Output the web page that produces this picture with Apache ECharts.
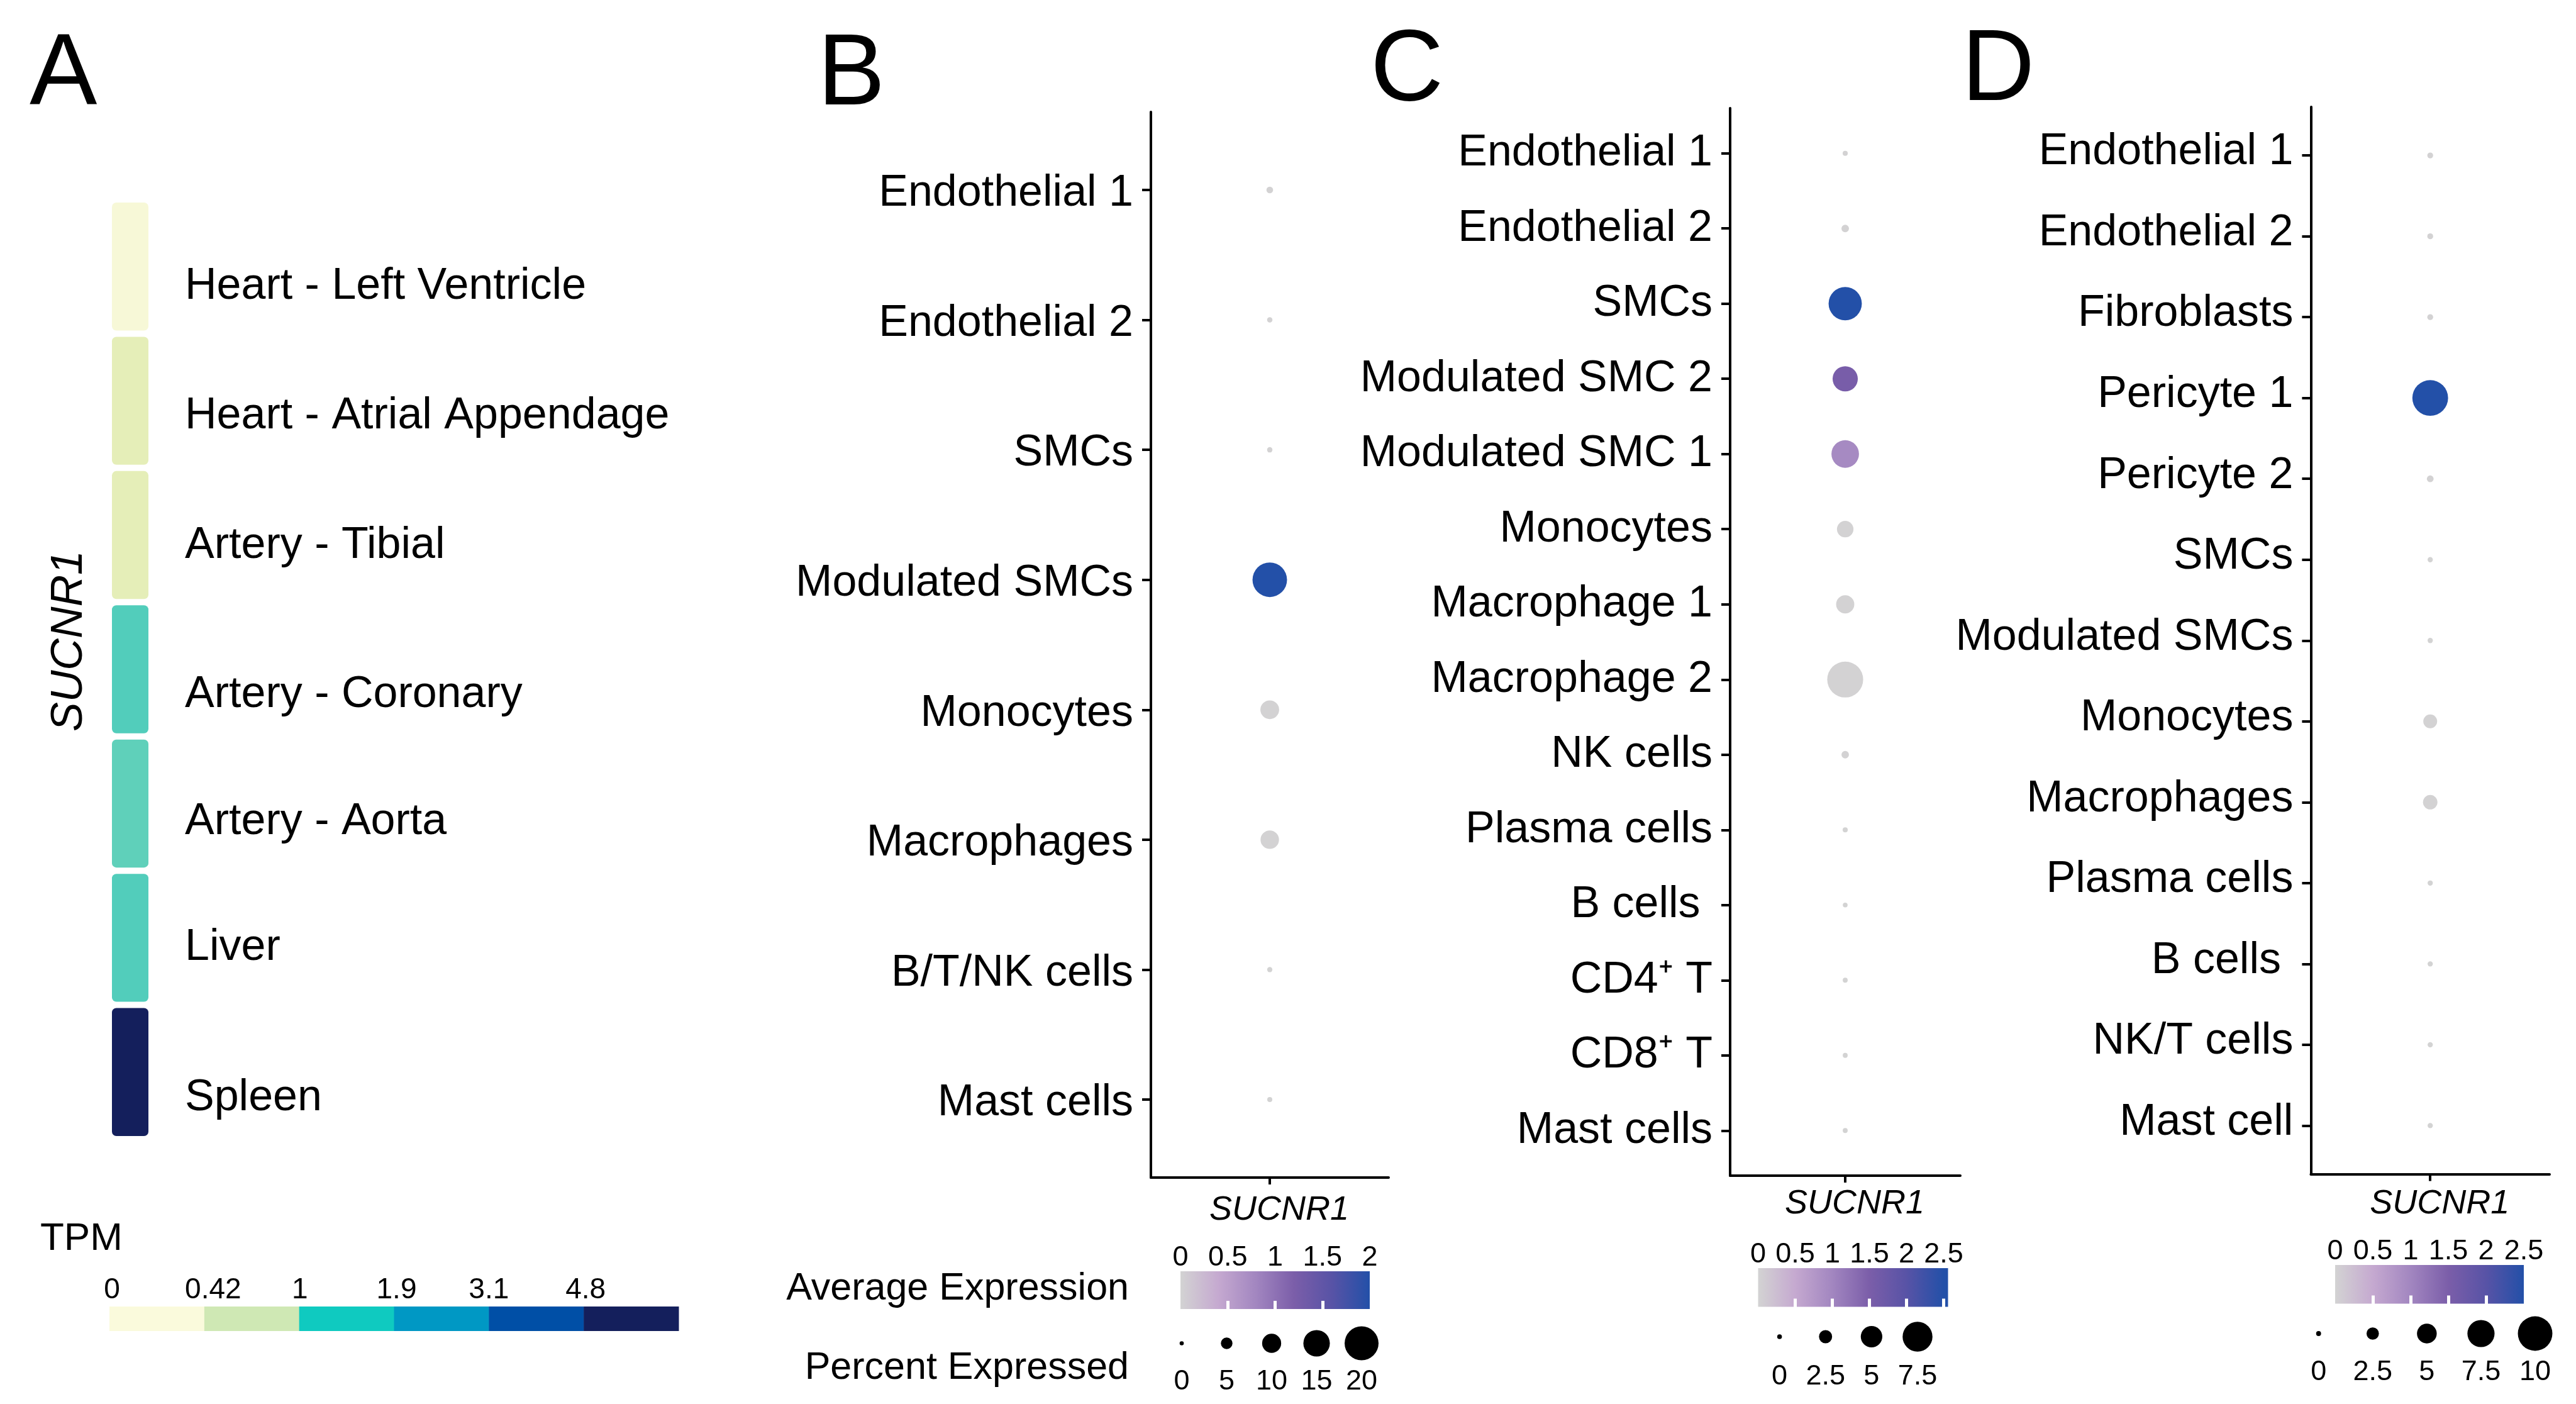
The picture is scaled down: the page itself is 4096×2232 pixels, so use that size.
<!DOCTYPE html>
<html><head><meta charset="utf-8">
<script src="https://cdn.jsdelivr.net/npm/echarts@6/dist/echarts.min.js"></script>
<style>html,body{margin:0;padding:0;background:#fff;}#chart{width:4096px;height:2232px;}</style>
</head><body><div id="chart"></div>
<script>
// ---------------- data ----------------
const genes = ['SUCNR1'];

// Panel A: GTEx tissues (TPM)
const tissues = ['Heart - Left Ventricle','Heart - Atrial Appendage','Artery - Tibial','Artery - Coronary','Artery - Aorta','Liver','Spleen'];
const tissueTPM = [0.03, 0.21, 0.21, 0.71, 0.68, 0.71, 6.0];
const tpmBreaks = [0, 0.42, 1, 1.9, 3.1, 4.8];
const tpmBreakLabels = ['0','0.42','1','1.9','3.1','4.8'];

// Panel B
const cellsB = ['Endothelial 1','Endothelial 2','SMCs','Modulated SMCs','Monocytes','Macrophages','B/T/NK cells','Mast cells'];
const pctB = [1.7, 0.8, 0.8, 20.4, 9.8, 9.6, 0.7, 0.6];
const avgB = [0.01, 0.01, 0.01, 2.0, 0.01, 0.01, 0.0, 0.0];
const avgTicksB = [0, 0.5, 1, 1.5, 2];
const pctTicksB = [0, 5, 10, 15, 20];

// Panel C
const cellsC = ['Endothelial 1','Endothelial 2','SMCs','Modulated SMC 2','Modulated SMC 1','Monocytes','Macrophage 1','Macrophage 2','NK cells','Plasma cells','B cells ','CD4\u207A T','CD8\u207A T','Mast cells'];
const pctC = [0.1, 0.8, 8.5, 6.1, 6.8, 3.5, 4.0, 9.3, 0.8, 0.1, 0.0, 0.05, 0.05, 0.05];
const avgC = [0.01, 0.01, 2.56, 1.55, 0.95, 0.01, 0.01, 0.01, 0.01, 0.0, 0.0, 0.0, 0.0, 0.0];
const avgTicksC = [0, 0.5, 1, 1.5, 2, 2.5];
const pctTicksC = [0, 2.5, 5, 7.5];

// Panel D
const cellsD = ['Endothelial 1','Endothelial 2','Fibroblasts','Pericyte 1','Pericyte 2','SMCs','Modulated SMCs','Monocytes','Macrophages','Plasma cells','B cells ','NK/T cells','Mast cell'];
const pctD = [0.3, 0.3, 0.3, 10.4, 0.6, 0.1, 0.1, 3.0, 3.2, 0.1, 0.1, 0.1, 0.1];
const avgD = [0.01, 0.01, 0.01, 2.5, 0.01, 0.0, 0.0, 0.01, 0.01, 0.0, 0.0, 0.0, 0.0];
const avgTicksD = [0, 0.5, 1, 1.5, 2, 2.5];
const pctTicksD = [0, 2.5, 5, 7.5, 10];

// ---------------- styles ----------------
const FONT = 'Liberation Sans, Arial, Helvetica, sans-serif';
const tpmColors = ['#FAFADC','#E5EEB8','#CFE8B4','#52CDBB','#0FCAC0','#08B1C2','#0098C4','#0074B5','#004FA6','#0A3781','#141F5C'];
const expColors = ['#D3D3D3','#C5A9D0','#A286C0','#7B5EA9','#5853A6','#2350A8'];

function tpmToPos(v) { // position on the (piecewise) TPM legend scale
  for (let i = 0; i < tpmBreaks.length - 1; i++) {
    if (v <= tpmBreaks[i + 1]) return i + (v - tpmBreaks[i]) / (tpmBreaks[i + 1] - tpmBreaks[i]);
  }
  return tpmBreaks.length - 1;
}

const grids = [], xAxes = [], yAxes = [], series = [], visualMaps = [];
function addGrid(g) { grids.push(Object.assign({containLabel: false, outerBoundsMode: 'none'}, g)); return grids.length - 1; }
const black = '#000';

// ---- Panel A: tiles ----
const gA = addGrid({left: 178, top: 317, width: 58, height: 1494});
xAxes.push({gridIndex: gA, type: 'category', data: genes, show: false});
const tileNudge = [32, 25, 17, 41, 29, 16, 41];
const richA = {};
tileNudge.forEach((n, i) => { richA['t' + i] = {fontSize: 70, fontFamily: FONT, color: black, padding: [2 * n, 0, 0, 0]}; });
yAxes.push({gridIndex: gA, type: 'category', data: tissues, inverse: true, position: 'right',
  axisLine: {show: false}, axisTick: {show: false}, splitLine: {show: false},
  axisLabel: {show: true, interval: 0, margin: 58, align: 'left', formatter: (v, i) => '{t' + i + '|' + v + '}', rich: richA}});
series.push({type: 'custom', xAxisIndex: xAxes.length - 1, yAxisIndex: yAxes.length - 1, clip: false,
  data: tissueTPM.map((v, i) => [0, i, tpmToPos(v)]),
  encode: {x: 0, y: 1},
  renderItem: (params, api) => {
    const c = api.coord([api.value(0), api.value(1)]);
    const s = api.size([1, 1]);
    const gap = 10;
    return {type: 'rect', shape: {x: c[0] - s[0] / 2, y: c[1] - s[1] / 2 + gap / 2, width: s[0], height: s[1] - gap, r: 7},
      style: {fill: api.visual('color')}};
  }});
// ---- Panel A: TPM legend ----
const gAL = addGrid({left: 174, top: 2077, width: 905, height: 39});
const tpmLabelNudge = [4, 14, 1, 4, 0, 3];
const richTPM = {};
tpmLabelNudge.forEach((n, i) => { richTPM['l' + i] = {fontSize: 46, fontFamily: FONT, color: black, padding: [0, 0, 0, 2 * n]}; });
xAxes.push({gridIndex: gAL, type: 'value', min: 0, max: tpmBreaks.length, position: 'top',
  axisLine: {show: false}, axisTick: {show: false}, splitLine: {show: false},
  axisLabel: {show: true, customValues: tpmBreaks.map((b, i) => i), margin: 3, fontSize: 46, fontFamily: FONT, color: black,
    formatter: v => { const i = Math.round(v); return '{l' + i + '|' + tpmBreakLabels[i] + '}'; }, rich: richTPM}});
yAxes.push({gridIndex: gAL, type: 'value', min: 0, max: 1, show: false});
series.push({type: 'custom', xAxisIndex: xAxes.length - 1, yAxisIndex: yAxes.length - 1, clip: false,
  data: tpmBreaks.map((b, i) => [i, 0, i]),
  encode: {x: 0, y: 1},
  renderItem: (params, api) => {
    const i = api.value(0);
    const p0 = api.coord([i, 0]), p1 = api.coord([i + 1, 1]);
    return {type: 'rect', shape: {x: p0[0], y: p1[1], width: p1[0] - p0[0] + 0.5, height: p0[1] - p1[1]}, style: {fill: api.visual('color')}};
  }});
visualMaps.push({type: 'continuous', show: false, seriesIndex: [0, 1], dimension: 2, min: 0, max: tpmBreaks.length - 1, inRange: {color: tpmColors}});

// ---- Dot plot panels ----
function dotPanel(P) {
  const n = P.cells.length;
  const gi = addGrid(P.grid);
  xAxes.push({gridIndex: gi, type: 'category', data: genes, boundaryGap: true, position: 'bottom',
    axisLine: {show: true, onZero: false, lineStyle: {color: black, width: 4}},
    axisTick: {show: true, alignWithLabel: true, length: 11, lineStyle: {color: black, width: 4}},
    splitLine: {show: false},
    axisLabel: {show: true, margin: P.xLabelMargin, fontSize: 54, fontStyle: 'italic', fontFamily: FONT, color: black, padding: [0, 0, 0, 30]}});
  const xi = xAxes.length - 1;
  yAxes.push({gridIndex: gi, type: 'value', min: -0.6, max: n - 1 + 0.6, inverse: true,
    axisLine: {show: true, onZero: false, lineStyle: {color: black, width: 4}},
    axisTick: {show: true, customValues: P.cells.map((c, i) => i), length: 14, lineStyle: {color: black, width: 4}},
    splitLine: {show: false},
    axisLabel: {show: true, customValues: P.cells.map((c, i) => i), margin: 28, fontSize: 70, fontFamily: FONT, color: black,
      formatter: v => '{c|' + P.cells[Math.round(v)] + '}',
      rich: {c: {fontSize: 70, fontFamily: FONT, color: black, padding: P.yLabelPad}}}});
  const yi = yAxes.length - 1;
  const sDots = series.length;
  series.push({type: 'scatter', xAxisIndex: xi, yAxisIndex: yi, symbol: 'circle', itemStyle: {opacity: 1},
    data: P.cells.map((c, i) => [0, i, P.pct[i], P.avg[i]]), encode: {x: 0, y: 1}, z: 3});

  // color bar
  const gb = addGrid(P.barGrid);
  const innerTicks = P.avgTicks.filter(v => v > 0 && v < P.barMax);
  xAxes.push({gridIndex: gb, type: 'value', min: 0, max: P.barMax, position: 'top', z: 6,
    axisLine: {show: false}, splitLine: {show: false},
    axisTick: {show: true, inside: true, customValues: innerTicks, length: 13, lineStyle: {color: '#fff', width: 5}},
    axisLabel: {show: true, customValues: P.avgTicks, margin: -1, fontSize: 45, fontFamily: FONT, color: black, formatter: v => String(v)}});
  const bxTop = xAxes.length - 1;
  xAxes.push({gridIndex: gb, type: 'value', min: 0, max: P.barMax, position: 'bottom', z: 6,
    axisLine: {show: false, onZero: false}, splitLine: {show: false}, axisLabel: {show: false},
    axisTick: {show: true, inside: true, customValues: innerTicks, length: 13, lineStyle: {color: '#fff', width: 5}}});
  yAxes.push({gridIndex: gb, type: 'value', min: 0, max: 1, show: false});
  const byi = yAxes.length - 1;
  const frac = P.colorMax / P.barMax;
  const stops = expColors.map((c, i) => ({offset: frac * i / (expColors.length - 1), color: c}));
  if (frac < 1) stops.push({offset: 1, color: expColors[expColors.length - 1]});

  // size legend
  const gs = addGrid(P.sizeGrid);
  xAxes.push({gridIndex: gs, type: 'category', data: P.pctTicks.map(String), boundaryGap: false, position: 'bottom',
    axisLine: {show: false, onZero: false}, axisTick: {show: false}, splitLine: {show: false},
    axisLabel: {show: true, interval: 0, margin: P.sizeLabelMargin, fontSize: 45, fontFamily: FONT, color: black}});
  yAxes.push({gridIndex: gs, type: 'value', min: -1, max: 1, show: false});
  const sSize = series.length;
  series.push({type: 'scatter', xAxisIndex: xAxes.length - 1, yAxisIndex: yAxes.length - 1, symbol: 'circle',
    itemStyle: {color: black, opacity: 1}, data: P.pctTicks.map((v, i) => [i, 0, v]), encode: {x: 0, y: 1}});

  series.push({type: 'custom', xAxisIndex: bxTop, yAxisIndex: byi, clip: false, data: [[0, 0]], encode: {x: 0, y: 1},
    renderItem: (params, api) => {
      const p0 = api.coord([0, 0]), p1 = api.coord([P.barMax, 1]);
      return {type: 'rect', shape: {x: p0[0], y: p1[1], width: p1[0] - p0[0], height: p0[1] - p1[1]},
        style: {fill: new echarts.graphic.LinearGradient(0, 0, 1, 0, stops)}};
    }});

  visualMaps.push({type: 'continuous', show: false, seriesIndex: [sDots, sSize], dimension: 2, min: 0, max: Math.max(...P.pct),
    inRange: {symbolSize: [P.dmin, P.dmax]}});
  const vmc = {type: 'continuous', show: false, seriesIndex: [sDots], dimension: 3, min: 0, max: P.colorMax, inRange: {color: expColors}};
  if (P.overColor) vmc.outOfRange = {color: P.overColor};
  visualMaps.push(vmc);
}

dotPanel({cells: cellsB, pct: pctB, avg: avgB, avgTicks: avgTicksB, pctTicks: pctTicksB,
  grid: {left: 1830, top: 178, width: 378, height: 1694}, xLabelMargin: 25, yLabelPad: [12, 0, 0, 0],
  barGrid: {left: 1877, top: 2021, width: 301, height: 60}, barMax: Math.max(...avgB), colorMax: Math.max(...avgB),
  sizeGrid: {left: 1879, top: 2134.5, width: 286, height: 2}, sizeLabelMargin: 38, dmin: 6.6, dmax: 54.9});
dotPanel({cells: cellsC, pct: pctC, avg: avgC, avgTicks: avgTicksC, pctTicks: pctTicksC,
  grid: {left: 2751, top: 172, width: 366, height: 1697}, xLabelMargin: 18, yLabelPad: [0, 0, 0, 0],
  barGrid: {left: 2795.5, top: 2016, width: 302, height: 61.5}, barMax: Math.max(...avgC), colorMax: 2.5, overColor: '#004EA5',
  sizeGrid: {left: 2829.6, top: 2124, width: 219.4, height: 2}, sizeLabelMargin: 40, dmin: 7.6, dmax: 57.1});
dotPanel({cells: cellsD, pct: pctD, avg: avgD, avgTicks: avgTicksD, pctTicks: pctTicksD,
  grid: {left: 3674.4, top: 170, width: 379.6, height: 1696.5}, xLabelMargin: 20, yLabelPad: [0, 0, 10, 0],
  barGrid: {left: 3713, top: 2011, width: 300, height: 61.5}, barMax: Math.max(...avgD), colorMax: Math.max(...avgD),
  sizeGrid: {left: 3686.7, top: 2119, width: 344.3, height: 2}, sizeLabelMargin: 38, dmin: 7.9, dmax: 56.8});

// ---- text graphics ----
function txt(text, x, y, size, opts) {
  return Object.assign({type: 'text', x: x, y: y, silent: true,
    style: Object.assign({text: text, fontSize: size, fontFamily: FONT, fill: black, align: 'left', verticalAlign: 'bottom'}, opts && opts.style)},
    opts && opts.el);
}
const graphics = [
  txt('A', 47, 202, 161), txt('B', 1300, 202, 161), txt('C', 2179, 195, 161), txt('D', 3119, 195, 161),
  txt('SUCNR1', 111, 1019, 70, {style: {fontStyle: 'italic', align: 'center', verticalAlign: 'middle'}, el: {rotation: Math.PI / 2}}),
  txt('TPM', 64, 2001, 62),
  txt('Average Expression', 1795, 2080, 61, {style: {align: 'right'}}),
  txt('Percent Expressed', 1795, 2206, 61, {style: {align: 'right'}})
];

const chart = echarts.init(document.getElementById('chart'), null, {renderer: 'canvas'});
chart.setOption({
  animation: false,
  backgroundColor: '#fff',
  grid: grids, xAxis: xAxes, yAxis: yAxes, series: series, visualMap: visualMaps,
  graphic: {elements: graphics}
});
</script></body></html>
